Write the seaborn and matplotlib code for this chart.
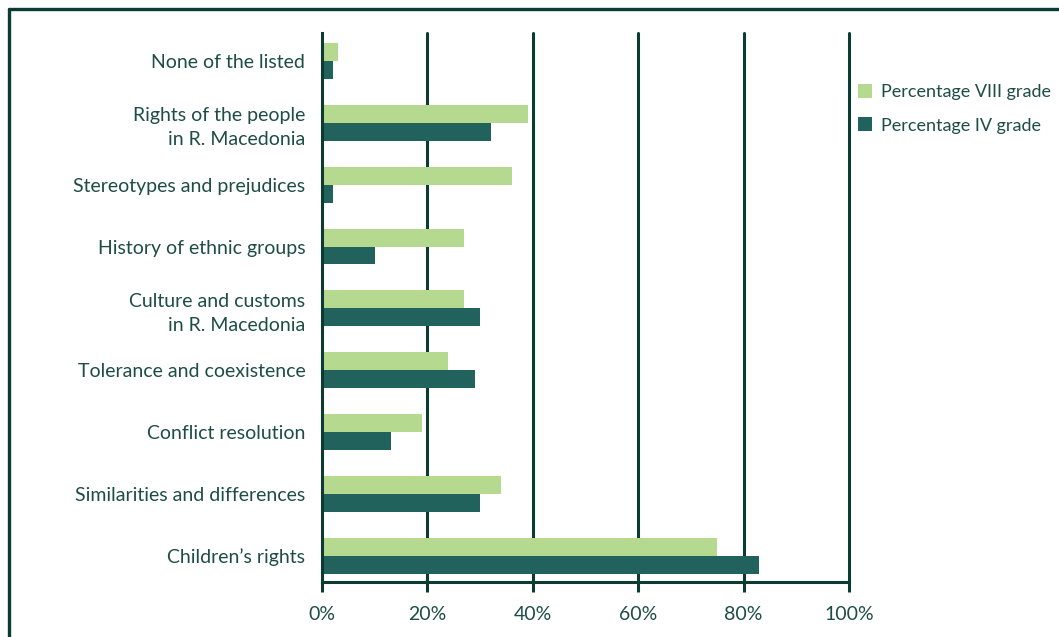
import matplotlib
matplotlib.use("Agg")
import matplotlib.pyplot as plt
from matplotlib.lines import Line2D
from matplotlib.patches import Patch
import seaborn as sns
import pandas as pd

topics = [
    "None of the listed",
    "Rights of the people\nin R. Macedonia",
    "Stereotypes and prejudices",
    "History of ethnic groups",
    "Culture and customs\nin R. Macedonia",
    "Tolerance and coexistence",
    "Conflict resolution",
    "Similarities and differences",
    "Children\u2019s rights",
]
grade_viii = [3, 39, 36, 27, 27, 24, 19, 34, 75]
grade_iv = [2, 32, 2, 10, 30, 29, 13, 30, 83]
series_names = ["Percentage VIII grade", "Percentage IV grade"]
x_ticks = [0, 20, 40, 60, 80, 100]
x_tick_labels = ["0%", "20%", "40%", "60%", "80%", "100%"]

light_green = "#b5d98f"
dark_teal = "#21625c"
ink = "#0b3b31"
text_col = "#1d4d45"

df = pd.DataFrame({
    "topic": topics * 2,
    "value": grade_viii + grade_iv,
    "grade": [series_names[0]] * len(topics) + [series_names[1]] * len(topics),
})

sns.set_theme(style="white")
plt.rcParams["font.family"] = ["Lato", "DejaVu Sans"]

fig = plt.figure(figsize=(10.59, 6.37), dpi=100)
W, H = 1059, 637
ax = fig.add_axes([322 / W, 1 - 582 / H, (849 - 322) / W, (582 - 33) / H])

sns.barplot(data=df, y="topic", x="value", hue="grade", orient="h",
            order=topics, hue_order=series_names,
            palette=[light_green, dark_teal], width=0.58,
            saturation=1, linewidth=0, ax=ax, legend=False)

ax.set_xlim(0, 100)
ax.set_ylim(8.42, -0.45)
ax.set_xticks(x_ticks)
ax.set_xticklabels(x_tick_labels)
ax.set_xlabel("")
ax.set_ylabel("")

for x in x_ticks[1:]:
    ax.axvline(x, color=ink, lw=2.2, zorder=0, clip_on=False)

for side in ["top", "right"]:
    ax.spines[side].set_visible(False)
for side in ["left", "bottom"]:
    ax.spines[side].set_color(ink)
    ax.spines[side].set_linewidth(2.2)

ax.tick_params(axis="x", colors=ink, length=7, width=2.2, pad=10,
               labelsize=14, labelcolor=text_col, bottom=True)
ax.tick_params(axis="y", length=0, pad=12, labelsize=14, labelcolor=text_col)
for lbl in ax.get_yticklabels():
    lbl.set_horizontalalignment("right")
    lbl.set_linespacing(1.5)

handles = [Patch(facecolor=light_green, edgecolor="none"),
           Patch(facecolor=dark_teal, edgecolor="none")]
fig.legend(handles, series_names, loc="upper left",
           bbox_to_anchor=(858 / W, 1 - 84 / H), frameon=False,
           borderpad=0, borderaxespad=0,
           fontsize=13, labelcolor=text_col, handlelength=0.8,
           handleheight=0.8, handletextpad=0.45, labelspacing=0.95)

# frame around the figure
fig.add_artist(Line2D([9 / W, 1], [1 - 9 / H, 1 - 9 / H], color=ink, lw=2.4,
                      transform=fig.transFigure))
fig.add_artist(Line2D([9 / W, 9 / W], [0, 1 - 9 / H], color=ink, lw=2.4,
                      transform=fig.transFigure))

fig.savefig("out.png", dpi=100)
